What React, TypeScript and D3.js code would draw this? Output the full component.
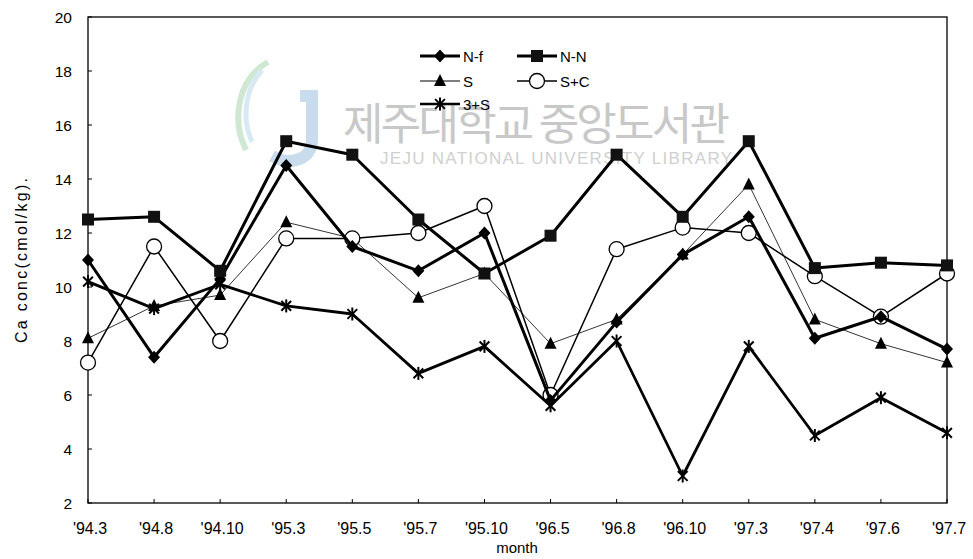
import React from "react";
import * as d3 from "d3";

const months = ["'94.3", "'94.8", "'94.10", "'95.3", "'95.5", "'95.7", "'95.10", "'96.5", "'96.8", "'96.10", "'97.3", "'97.4", "'97.6", "'97.7"];

const nf = [11.0, 7.4, 10.3, 14.5, 11.5, 10.6, 12.0, 5.8, 8.7, 11.2, 12.6, 8.1, 8.9, 7.7];
const nn = [12.5, 12.6, 10.6, 15.4, 14.9, 12.5, 10.5, 11.9, 14.9, 12.6, 15.4, 10.7, 10.9, 10.8];
const s = [8.1, 9.3, 9.7, 12.4, 11.8, 9.6, 10.5, 7.9, 8.8, 11.2, 13.8, 8.8, 7.9, 7.2];
const sc = [7.2, 11.5, 8.0, 11.8, 11.8, 12.0, 13.0, 6.0, 11.4, 12.2, 12.0, 10.4, 8.9, 10.5];
const ts = [10.2, 9.2, 10.1, 9.3, 9.0, 6.8, 7.8, 5.6, 8.0, 3.0, 7.8, 4.5, 5.9, 4.6];

const yTicks = [2, 4, 6, 8, 10, 12, 14, 16, 18, 20];

type Marker = "diamond" | "square" | "triangle" | "circle" | "asterisk";
const seriesList: { name: string; values: number[]; marker: Marker; width: number }[] = [
  { name: "S", values: s, marker: "triangle", width: 0.8 },
  { name: "S+C", values: sc, marker: "circle", width: 1.5 },
  { name: "3+S", values: ts, marker: "asterisk", width: 2.8 },
  { name: "N-f", values: nf, marker: "diamond", width: 3 },
  { name: "N-N", values: nn, marker: "square", width: 3 },
];

const W = 973;
const H = 559;
const left = 88;
const right = 947;
const top = 17;
const bottom = 503;
const font = "'Liberation Sans', Arial, sans-serif";

function MarkerShape({ kind, x, y }: { kind: Marker; x: number; y: number }) {
  switch (kind) {
    case "diamond":
      return <path d={`M${x},${y - 6.5}L${x + 6},${y}L${x},${y + 6.5}L${x - 6},${y}Z`} fill="#000" />;
    case "square":
      return <rect x={x - 6} y={y - 6} width={12} height={12} fill="#111" />;
    case "triangle":
      return <path d={`M${x},${y - 7}L${x + 6},${y + 5}L${x - 6},${y + 5}Z`} fill="#000" />;
    case "circle":
      return <circle cx={x} cy={y} r={7.5} fill="#fff" stroke="#000" strokeWidth={1.3} />;
    case "asterisk": {
      const r = 6.5;
      const d = r * 0.75;
      return (
        <g stroke="#000" strokeWidth={2}>
          <line x1={x - d} y1={y - d} x2={x + d} y2={y + d} />
          <line x1={x - d} y1={y + d} x2={x + d} y2={y - d} />
          <line x1={x} y1={y - r} x2={x} y2={y + r} />
        </g>
      );
    }
  }
}

export default function App() {
  const x = d3.scalePoint<string>().domain(months).range([left, right]);
  const y = d3.scaleLinear().domain([2, 20]).range([bottom, top]);
  const line = d3
    .line<number>()
    .x((_, i) => x(months[i]) as number)
    .y((v) => y(v));

  const legend: { name: string; marker: Marker; width: number; lx: number; ly: number }[] = [
    { name: "N-f", marker: "diamond", width: 3, lx: 420, ly: 56 },
    { name: "N-N", marker: "square", width: 3, lx: 517, ly: 56 },
    { name: "S", marker: "triangle", width: 1.2, lx: 420, ly: 81 },
    { name: "S+C", marker: "circle", width: 1.5, lx: 517, ly: 81 },
    { name: "3+S", marker: "asterisk", width: 2.5, lx: 420, ly: 104 },
  ];

  return (
    <svg width={W} height={H} style={{ position: "absolute", left: 0, top: 0, background: "#fff" }} fontFamily={font}>
      <rect width={W} height={H} fill="#fff" />

      {/* library watermark */}
      <g opacity={0.55}>
        <path d="M268,62 C236,80 232,122 246,150" fill="none" stroke="#a8d5b0" strokeWidth={6} />
        <path d="M262,70 C244,90 242,120 252,142" fill="none" stroke="#b8d8ea" strokeWidth={5} />
        <path d="M300,96 L312,96 L312,140 C312,160 290,166 272,156" fill="none" stroke="#9cc0e0" strokeWidth={12} />
      </g>
      <text x={343} y={140} fontSize={44} fill="#c8c8c8" fontFamily="'Noto Sans CJK KR', sans-serif" textLength={387}>
        제주대학교 중앙도서관
      </text>
      <text x={380} y={164} fontSize={17} fill="#d0d0d0" textLength={352}>
        JEJU NATIONAL UNIVERSITY LIBRARY
      </text>

      {/* frame */}
      <rect x={left} y={top} width={right - left} height={bottom - top} fill="none" stroke="#000" strokeWidth={1.3} />

      {/* y ticks */}
      {yTicks.map((t) => (
        <g key={t}>
          <line x1={left} x2={left + 4} y1={y(t)} y2={y(t)} stroke="#000" strokeWidth={1} />
          <text x={left - 16} y={y(t) + 5.5} fontSize={15.5} textAnchor="end" fill="#000">
            {t}
          </text>
        </g>
      ))}

      {/* x ticks */}
      {months.map((m) => (
        <g key={m}>
          <line x1={x(m)} x2={x(m)} y1={bottom} y2={bottom - 4} stroke="#000" strokeWidth={1} />
          <text x={(x(m) as number) + 2} y={534} fontSize={16} textAnchor="middle" fill="#000">
            {m}
          </text>
        </g>
      ))}

      <text x={517} y={553} fontSize={15} textAnchor="middle" fill="#000">
        month
      </text>
      <text
        transform={`translate(27,${(178 + 343) / 2}) rotate(-90)`}
        fontSize={16}
        textAnchor="middle"
        fill="#000"
        textLength={165}
      >
        Ca conc(cmol/kg).
      </text>

      {/* series */}
      {seriesList.map((sr) => (
        <g key={sr.name}>
          <path d={line(sr.values) ?? ""} fill="none" stroke="#000" strokeWidth={sr.width} strokeLinejoin="round" />
          {sr.values.map((v, i) => (
            <MarkerShape key={i} kind={sr.marker} x={x(months[i]) as number} y={y(v)} />
          ))}
        </g>
      ))}

      {/* legend */}
      {legend.map((l) => (
        <g key={l.name}>
          <line x1={l.lx} x2={l.lx + 40} y1={l.ly} y2={l.ly} stroke="#000" strokeWidth={l.width} />
          <MarkerShape kind={l.marker} x={l.lx + 20} y={l.ly} />
          <text x={l.lx + 43} y={l.ly + 5.5} fontSize={15} fill="#000">
            {l.name}
          </text>
        </g>
      ))}
    </svg>
  );
}
